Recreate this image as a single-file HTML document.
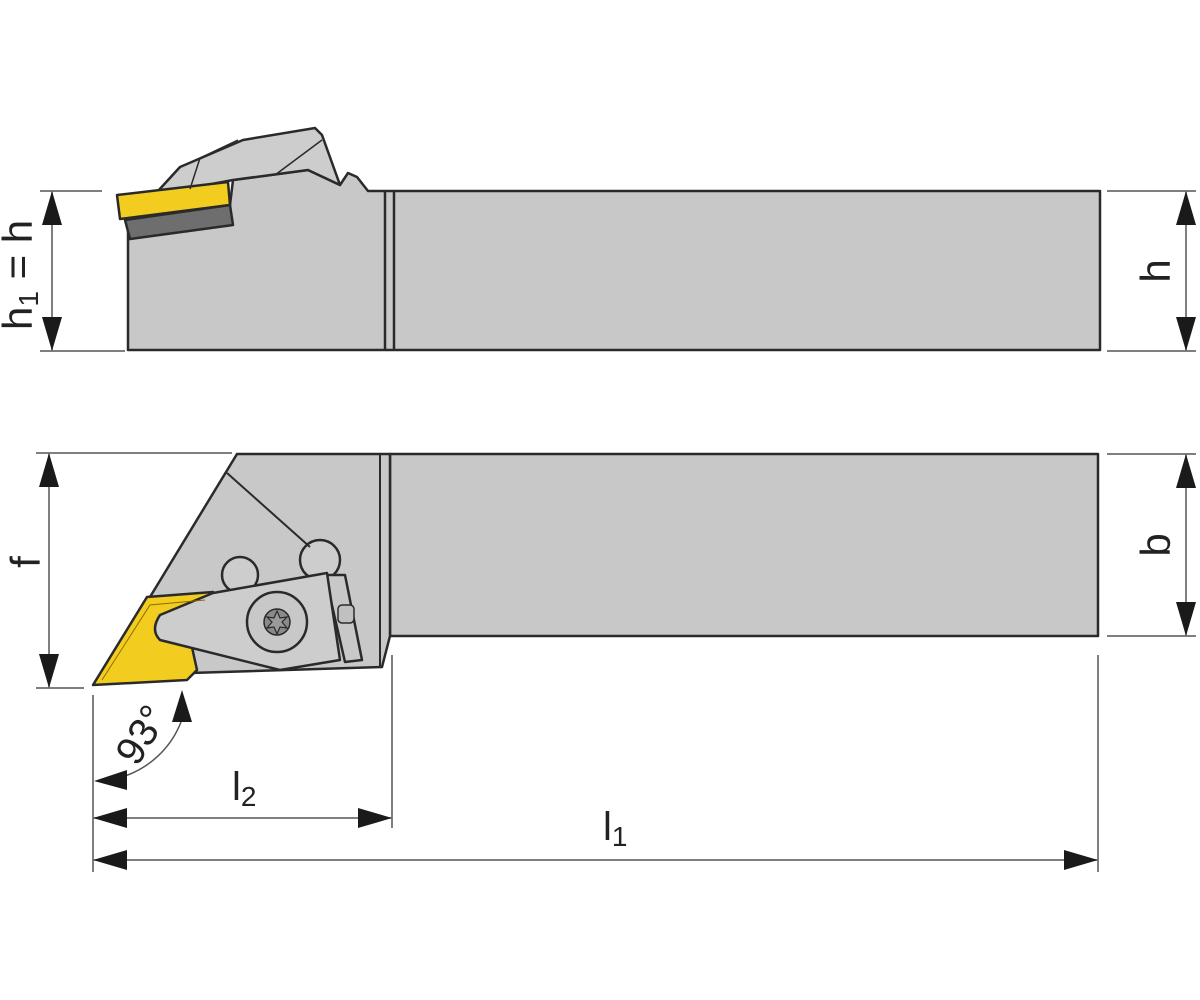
<!DOCTYPE html>
<html><head><meta charset="utf-8"><style>
html,body{margin:0;padding:0;background:#fff;}
svg{display:block;}
text{font-family:"Liberation Sans",sans-serif;fill:#222;}
</style></head><body>
<svg width="1200" height="1000" viewBox="0 0 1200 1000" xmlns="http://www.w3.org/2000/svg">
<defs>
<marker id="a" markerWidth="34" markerHeight="20" refX="33" refY="10" orient="auto-start-reverse" markerUnits="userSpaceOnUse">
<path d="M0,0 L34,10 L0,20 Z" fill="#1a1a1a"/></marker>
</defs>

<!-- TOP VIEW -->
<g stroke="#2a2a2a" stroke-width="2.5" stroke-linejoin="round">
<path d="M128,218 L128,350 L1100,350 L1100,191 L368,191 L357,177 L348,173 L340,185 L308,170 L233,180 L230,205 L128,218 Z" fill="#c8c8c8"/>
<path d="M158,191 L180,167 L243,140 L315,128 L322,135 L340,185 L308,170 L233,180 L180,190 Z" fill="#cdcdcd"/>
<path d="M117,195 L228,182 L230,205 L120,219 Z" fill="#f2cd1f"/>
<path d="M125,220 L230,205 L233,225 L130,239 Z" fill="#6e6e6e"/>
</g>
<g stroke="#2a2a2a" stroke-width="1.5" fill="none">
<path d="M190,189 L200,158 L238,140"/>
<path d="M275,175 L322,140"/>
<line x1="385" y1="191" x2="385" y2="350" stroke-width="2.5"/>
<line x1="394" y1="191" x2="394" y2="350" stroke-width="2.5"/>
</g>

<!-- FRONT VIEW -->
<g stroke="#2a2a2a" stroke-width="2.5" stroke-linejoin="round">
<rect x="390" y="454" width="708" height="182" fill="#c8c8c8"/>
<path d="M237,454 L390,454 L390,636 L382,667 L190,673 L150,597 Z" fill="#c8c8c8"/>
<circle cx="240" cy="575" r="18" fill="#cdcdcd"/>
<circle cx="320" cy="560" r="20" fill="#cdcdcd"/>
<path d="M325,575 L345,575 L362,660 L345,662 Z" fill="#c8c8c8"/>
<path d="M93,685 L147,597 L213,592 L190,638 L197,670 L187,680 Z" fill="#f2cd1f"/>
<path d="M160,615 Q150,630 160,640 L280,670 L340,660 L327,573 L213,593 Z" fill="#cdcdcd"/>
<circle cx="277" cy="622" r="30" fill="#c8c8c8"/>
<rect x="338" y="605" width="16" height="18" rx="4" fill="#c0c0c0" stroke-width="1.5"/>
</g>
<g stroke="#2a2a2a" fill="none">
<line x1="227" y1="473" x2="310" y2="547" stroke-width="2"/>
<line x1="380" y1="454" x2="380" y2="667" stroke-width="2"/>
<path d="M102,680 L150,605 L205,600" stroke-width="1" stroke="#8a6d00"/>
<circle cx="277" cy="622" r="13" fill="#8a8a8a" stroke-width="1.5"/>
<path d="M277,611 L280,618 L287,617 L282,622 L287,628 L280,627 L277,634 L274,627 L267,628 L272,622 L267,617 L274,618 Z" fill="#9a9a9a" stroke-width="1.2"/>
</g>

<!-- DIMENSIONS -->
<g stroke="#555" stroke-width="1.5" fill="none">
<line x1="40" y1="191" x2="102" y2="191"/>
<line x1="40" y1="351" x2="125" y2="351"/>
<line x1="1107" y1="191" x2="1196" y2="191"/>
<line x1="1107" y1="351" x2="1196" y2="351"/>
<line x1="36" y1="453" x2="232" y2="453"/>
<line x1="36" y1="688" x2="84" y2="688"/>
<line x1="1107" y1="454" x2="1196" y2="454"/>
<line x1="1107" y1="636" x2="1196" y2="636"/>
<line x1="93" y1="695" x2="93" y2="872"/>
<line x1="392" y1="655" x2="392" y2="828"/>
<line x1="1098" y1="655" x2="1098" y2="872"/>
<line x1="52" y1="192" x2="52" y2="350" marker-start="url(#a)" marker-end="url(#a)"/>
<line x1="1186" y1="192" x2="1186" y2="350" marker-start="url(#a)" marker-end="url(#a)"/>
<line x1="49" y1="454" x2="49" y2="687" marker-start="url(#a)" marker-end="url(#a)"/>
<line x1="1186" y1="455" x2="1186" y2="635" marker-start="url(#a)" marker-end="url(#a)"/>
<line x1="94" y1="818" x2="391" y2="818" marker-start="url(#a)" marker-end="url(#a)"/>
<line x1="94" y1="860" x2="1097" y2="860" marker-start="url(#a)" marker-end="url(#a)"/>
<path d="M122,777 A93,93 0 0 0 181,722"/>
</g>
<path d="M94,781 L127,770 L127,790 Z" fill="#1a1a1a"/>
<path d="M182,690 L172,722 L192,722 Z" fill="#1a1a1a"/>

<!-- LABELS -->
<text x="0" y="0" font-size="42" transform="translate(32,330) rotate(-90)">h<tspan font-size="28" dy="6">1</tspan><tspan dy="-6"> = h</tspan></text>
<text x="0" y="0" font-size="42" text-anchor="middle" transform="translate(1170,271) rotate(-90)">h</text>
<text x="0" y="0" font-size="42" text-anchor="middle" transform="translate(40,562) rotate(-90)">f</text>
<text x="0" y="0" font-size="42" text-anchor="middle" transform="translate(1170,545) rotate(-90)">b</text>
<text x="0" y="0" font-size="40" text-anchor="middle" transform="translate(153,742) rotate(-58)">93°</text>
<text x="232" y="800" font-size="40">l<tspan font-size="28" dy="6">2</tspan></text>
<text x="603" y="840" font-size="40">l<tspan font-size="28" dy="6">1</tspan></text>
</svg>
</body></html>
